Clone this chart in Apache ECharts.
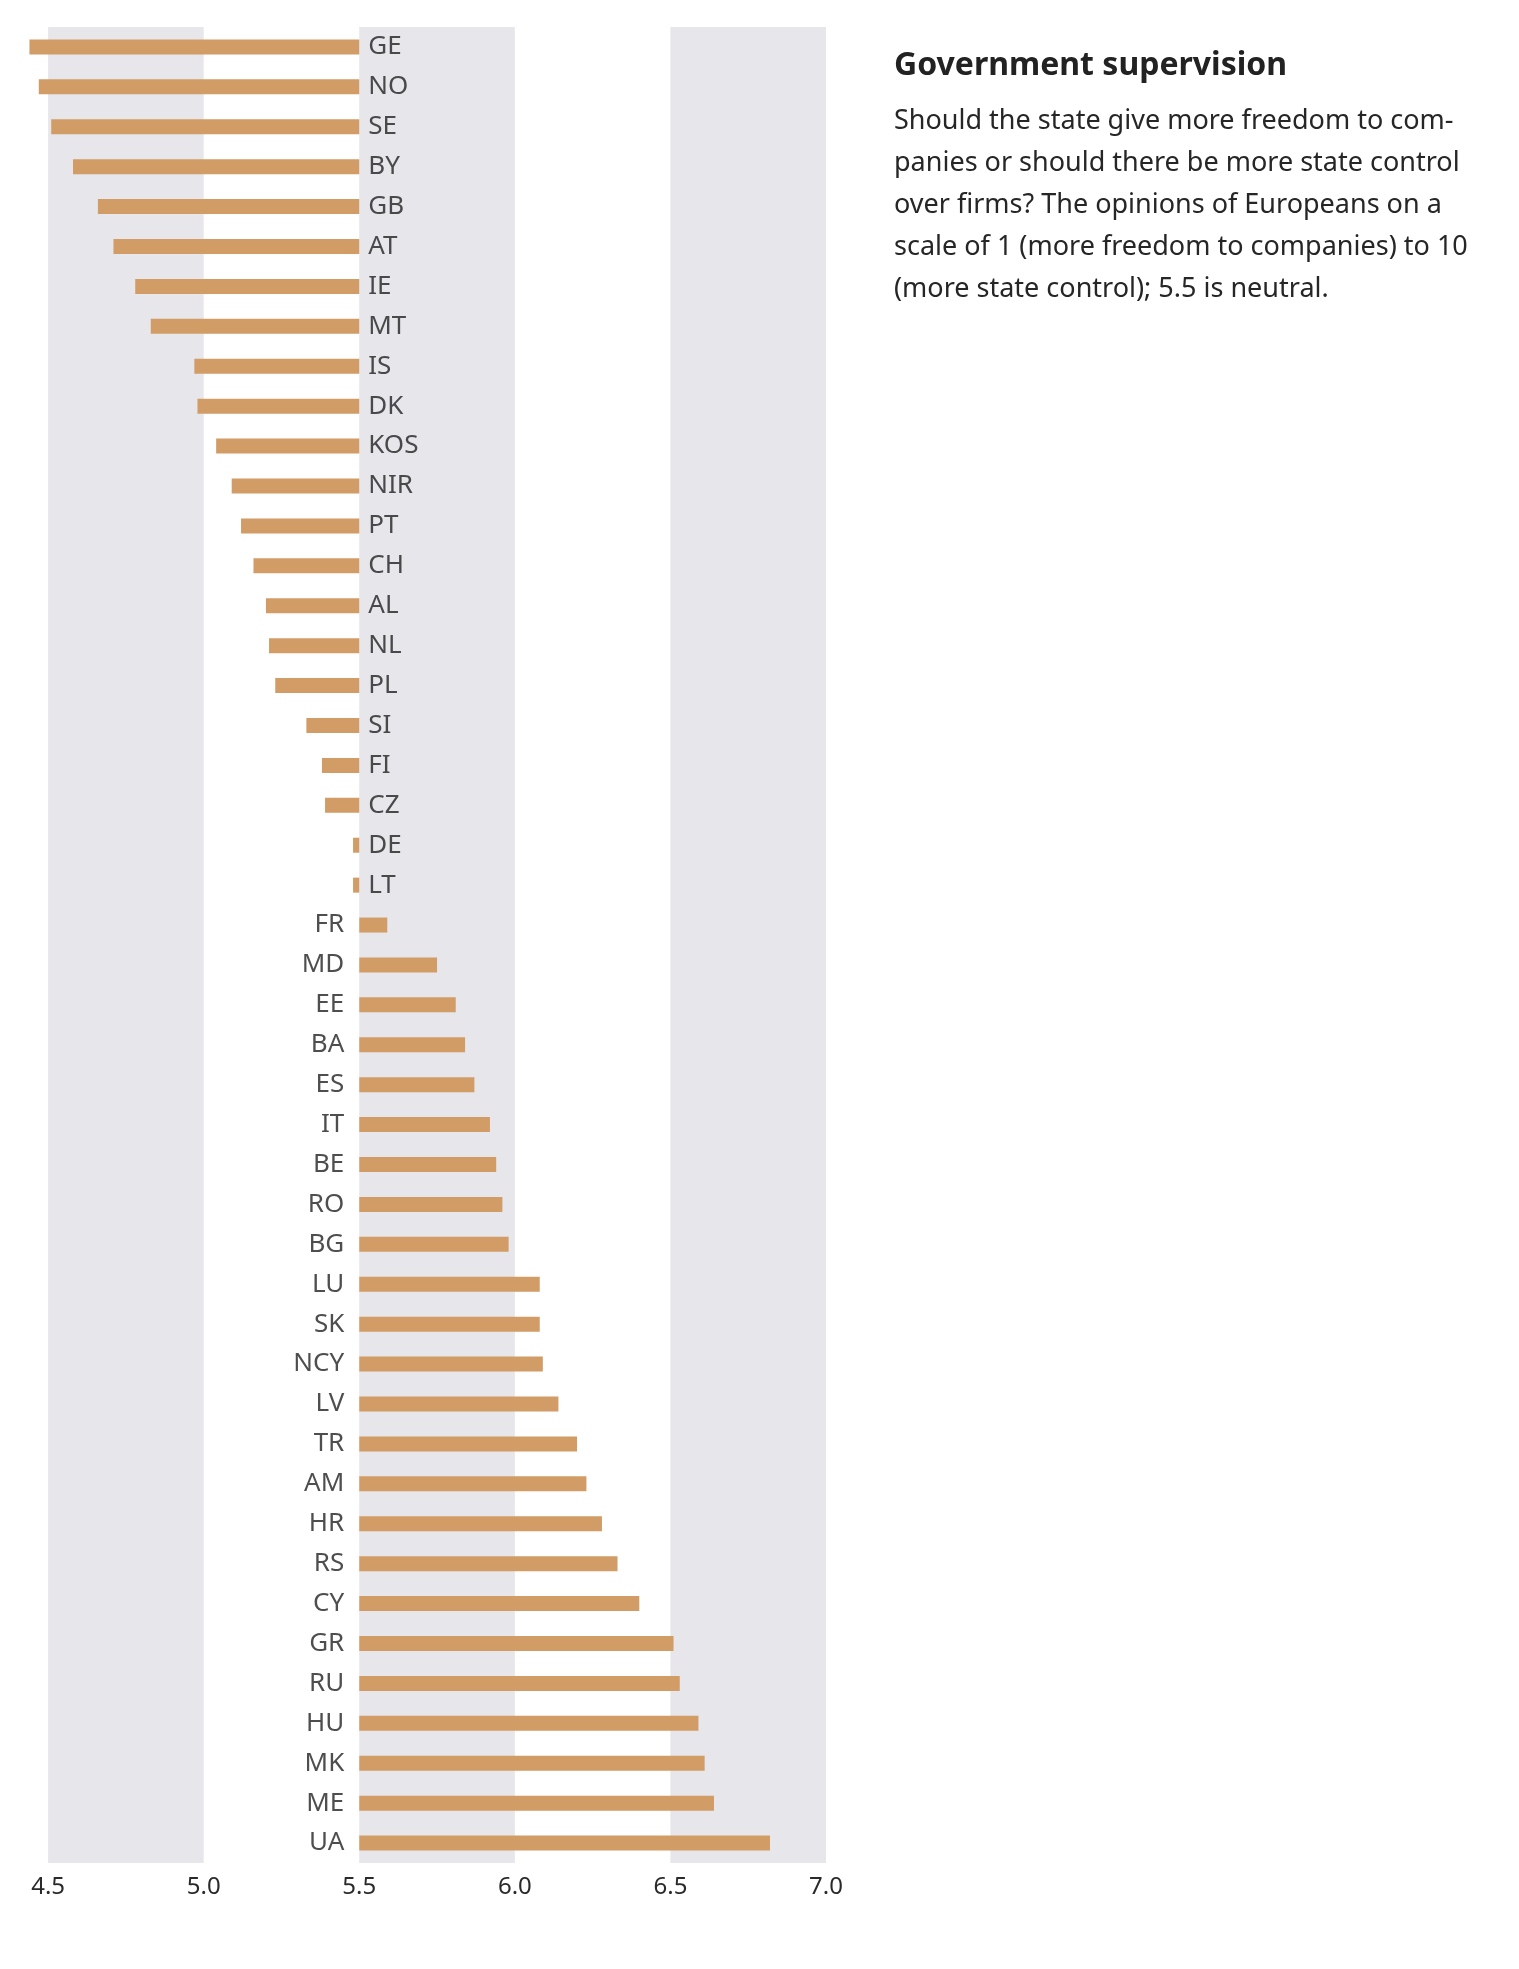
<!DOCTYPE html>
<html>
<head>
<meta charset="utf-8">
<title>Government supervision</title>
<script src="https://cdn.jsdelivr.net/npm/echarts@6/dist/echarts.min.js"></script>
<style>
  html, body { margin: 0; padding: 0; background: #fff; }
  #chart { width: 1519px; height: 1969px; }
</style>
</head>
<body>
<div id="chart"></div>
<script>
// scale 1..10, 5.5 is the neutral point the bars grow from
const NEUTRAL = 5.5;

const countries = ['GE', 'NO', 'SE', 'BY', 'GB', 'AT', 'IE', 'MT', 'IS', 'DK',
  'KOS', 'NIR', 'PT', 'CH', 'AL', 'NL', 'PL', 'SI', 'FI', 'CZ', 'DE', 'LT',
  'FR', 'MD', 'EE', 'BA', 'ES', 'IT', 'BE', 'RO', 'BG',
  'LU', 'SK', 'NCY', 'LV', 'TR', 'AM', 'HR', 'RS', 'CY', 'GR', 'RU', 'HU', 'MK', 'ME', 'UA'];

const scores = [4.44, 4.47, 4.51, 4.58, 4.66, 4.71, 4.78, 4.83, 4.97, 4.98,
  5.04, 5.09, 5.12, 5.16, 5.20, 5.21, 5.23, 5.33, 5.38, 5.39, 5.48, 5.48,
  5.59, 5.75, 5.81, 5.84, 5.87, 5.92, 5.94, 5.96, 5.98,
  6.08, 6.08, 6.09, 6.14, 6.20, 6.23, 6.28, 6.33, 6.40, 6.51, 6.53, 6.59, 6.61, 6.64, 6.82];

const tickValues = [4.5, 5.0, 5.5, 6.0, 6.5, 7.0];
// shaded columns on the scale
const bands = [[4.5, 5.0], [5.5, 6.0], [6.5, 7.0]];

const titleText = 'Government supervision';
const noteLines = [
  'Should the state give more freedom to com-',
  'panies or should there be more state control',
  'over firms? The opinions of Europeans on a',
  'scale of 1 (more freedom to companies) to 10',
  '(more state control); 5.5 is neutral.'
];

const FONT = 'Noto Sans';
const BAR_COLOR = '#d29c66';
const BAND_COLOR = '#e6e6eb';

const chart = echarts.init(document.getElementById('chart'), null, { renderer: 'canvas' });

// bars are drawn as distance from neutral
const deviations = scores.map(v => +(v - NEUTRAL).toFixed(3));

const option = {
  backgroundColor: '#fff',
  animation: false,
  title: [
    {
      text: titleText,
      left: 889,
      top: 45,
      textStyle: { fontFamily: FONT, fontSize: 32, fontWeight: 'bold', color: '#222' }
    },
    {
      text: noteLines.join('\n'),
      left: 889,
      top: 95,
      textStyle: { fontFamily: FONT, fontSize: 27, fontWeight: 'normal', color: '#262626', lineHeight: 42 }
    }
  ],
  grid: { left: 17, top: 27, width: 809, height: 1836 },
  xAxis: {
    type: 'value',
    min: -1.1,
    max: 1.5,
    axisLine: { show: false },
    axisTick: { show: false },
    splitLine: { show: false },
    axisLabel: {
      customValues: tickValues.map(t => t - NEUTRAL),
      formatter: v => (v + NEUTRAL).toFixed(1),
      fontFamily: FONT,
      fontSize: 24,
      color: '#2a2a2a',
      margin: 12
    }
  },
  yAxis: {
    type: 'category',
    data: countries,
    inverse: true,
    axisLine: { show: false },
    axisTick: { show: false },
    axisLabel: { show: false },
    splitLine: { show: false }
  },
  series: [
    {
      // background bands
      type: 'bar',
      data: [],
      silent: true,
      z: 1,
      markArea: {
        silent: true,
        itemStyle: { color: BAND_COLOR },
        data: bands.map(b => [{ xAxis: b[0] - NEUTRAL }, { xAxis: b[1] - NEUTRAL }])
      }
    },
    {
      type: 'bar',
      data: deviations,
      barWidth: 15,
      z: 3,
      itemStyle: { color: BAR_COLOR },
      silent: true
    },
    {
      // country codes sit beside the neutral line, on the side away from the bar
      type: 'scatter',
      symbolSize: 0,
      z: 4,
      silent: true,
      data: countries.map((c, i) => ({
        value: [0, c],
        label: {
          show: true,
          formatter: c,
          position: deviations[i] < 0 ? 'right' : 'left',
          distance: deviations[i] < 0 ? 9 : 15,
          fontFamily: FONT,
          fontSize: 26,
          color: '#222'
        }
      }))
    }
  ]
};

chart.setOption(option);
</script>
</body>
</html>
